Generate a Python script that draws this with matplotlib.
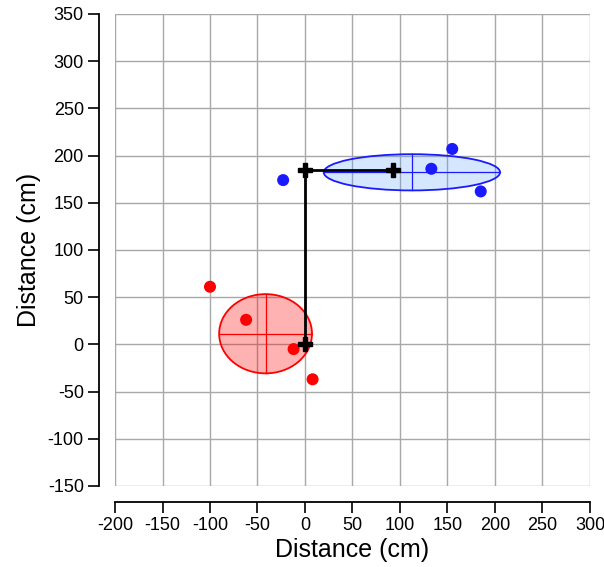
import numpy as np
import matplotlib.pyplot as plt
from matplotlib.patches import Ellipse

plt.rcParams['font.family'] = ['Liberation Sans', 'DejaVu Sans']
plt.rcParams['axes.unicode_minus'] = False

# measured points (cm)
red_x = [-100, -62, -12, 8]
red_y = [61, 26, -5, -37]
blue_x = [-23, 133, 155, 185]
blue_y = [174, 186, 207, 162]

# robot path
path_x = [0, 0, 93]
path_y = [0, 185, 185]

xticks = np.arange(-200, 301, 50)
yticks = np.arange(-150, 351, 50)


def draw_cloud(ax, xs, ys, color, face, alpha):
    xs = np.asarray(xs, float)
    ys = np.asarray(ys, float)
    mx, my = xs.mean(), ys.mean()
    sx, sy = xs.std(ddof=1), ys.std(ddof=1)
    ax.add_patch(Ellipse((mx, my), 2 * sx, 2 * sy, facecolor=face, alpha=alpha,
                         edgecolor='none', zorder=2))
    ax.add_patch(Ellipse((mx, my), 2 * sx, 2 * sy, facecolor='none',
                         edgecolor=color, lw=1.3, zorder=3))
    ax.plot([mx - sx, mx + sx], [my, my], color=color, lw=0.9, zorder=3)
    ax.plot([mx, mx], [my - sy, my + sy], color=color, lw=0.9, zorder=3)
    ax.scatter(xs, ys, s=75, color=color, edgecolor='none', zorder=5)


fig = plt.figure(figsize=(6.04, 5.67), dpi=100)
ax = fig.add_axes([0.1904, 0.1429, 0.7864, 0.8325])

draw_cloud(ax, red_x, red_y, '#ff0000', '#ff0000', 0.3)
draw_cloud(ax, blue_x, blue_y, '#1a1aff', '#5aa0ff', 0.25)

ax.plot(path_x, path_y, color='black', lw=2, zorder=4)
ax.plot(path_x, path_y, linestyle='none', marker='P', ms=10, color='black', zorder=6)

ax.set_xlim(-200, 300)
ax.set_ylim(-150, 350)
ax.set_xticks(xticks)
ax.set_yticks(yticks)
ax.grid(True, color='#a8a8a8', lw=1)
ax.set_axisbelow(True)

for side in ['top', 'right']:
    ax.spines[side].set_visible(False)
ax.spines['left'].set_position(('outward', 11.5))
ax.spines['bottom'].set_position(('outward', 11.5))
ax.spines['left'].set_bounds(-150, 350)
ax.spines['bottom'].set_bounds(-200, 300)
ax.spines['left'].set_linewidth(1.3)
ax.spines['bottom'].set_linewidth(1.3)
ax.tick_params(direction='out', length=8, width=1.2, labelsize=13, pad=3)

ax.set_xlabel('Distance (cm)', fontsize=18, labelpad=3)
ax.set_ylabel('Distance (cm)', fontsize=18, labelpad=5)

fig.savefig('out.png', dpi=100)
